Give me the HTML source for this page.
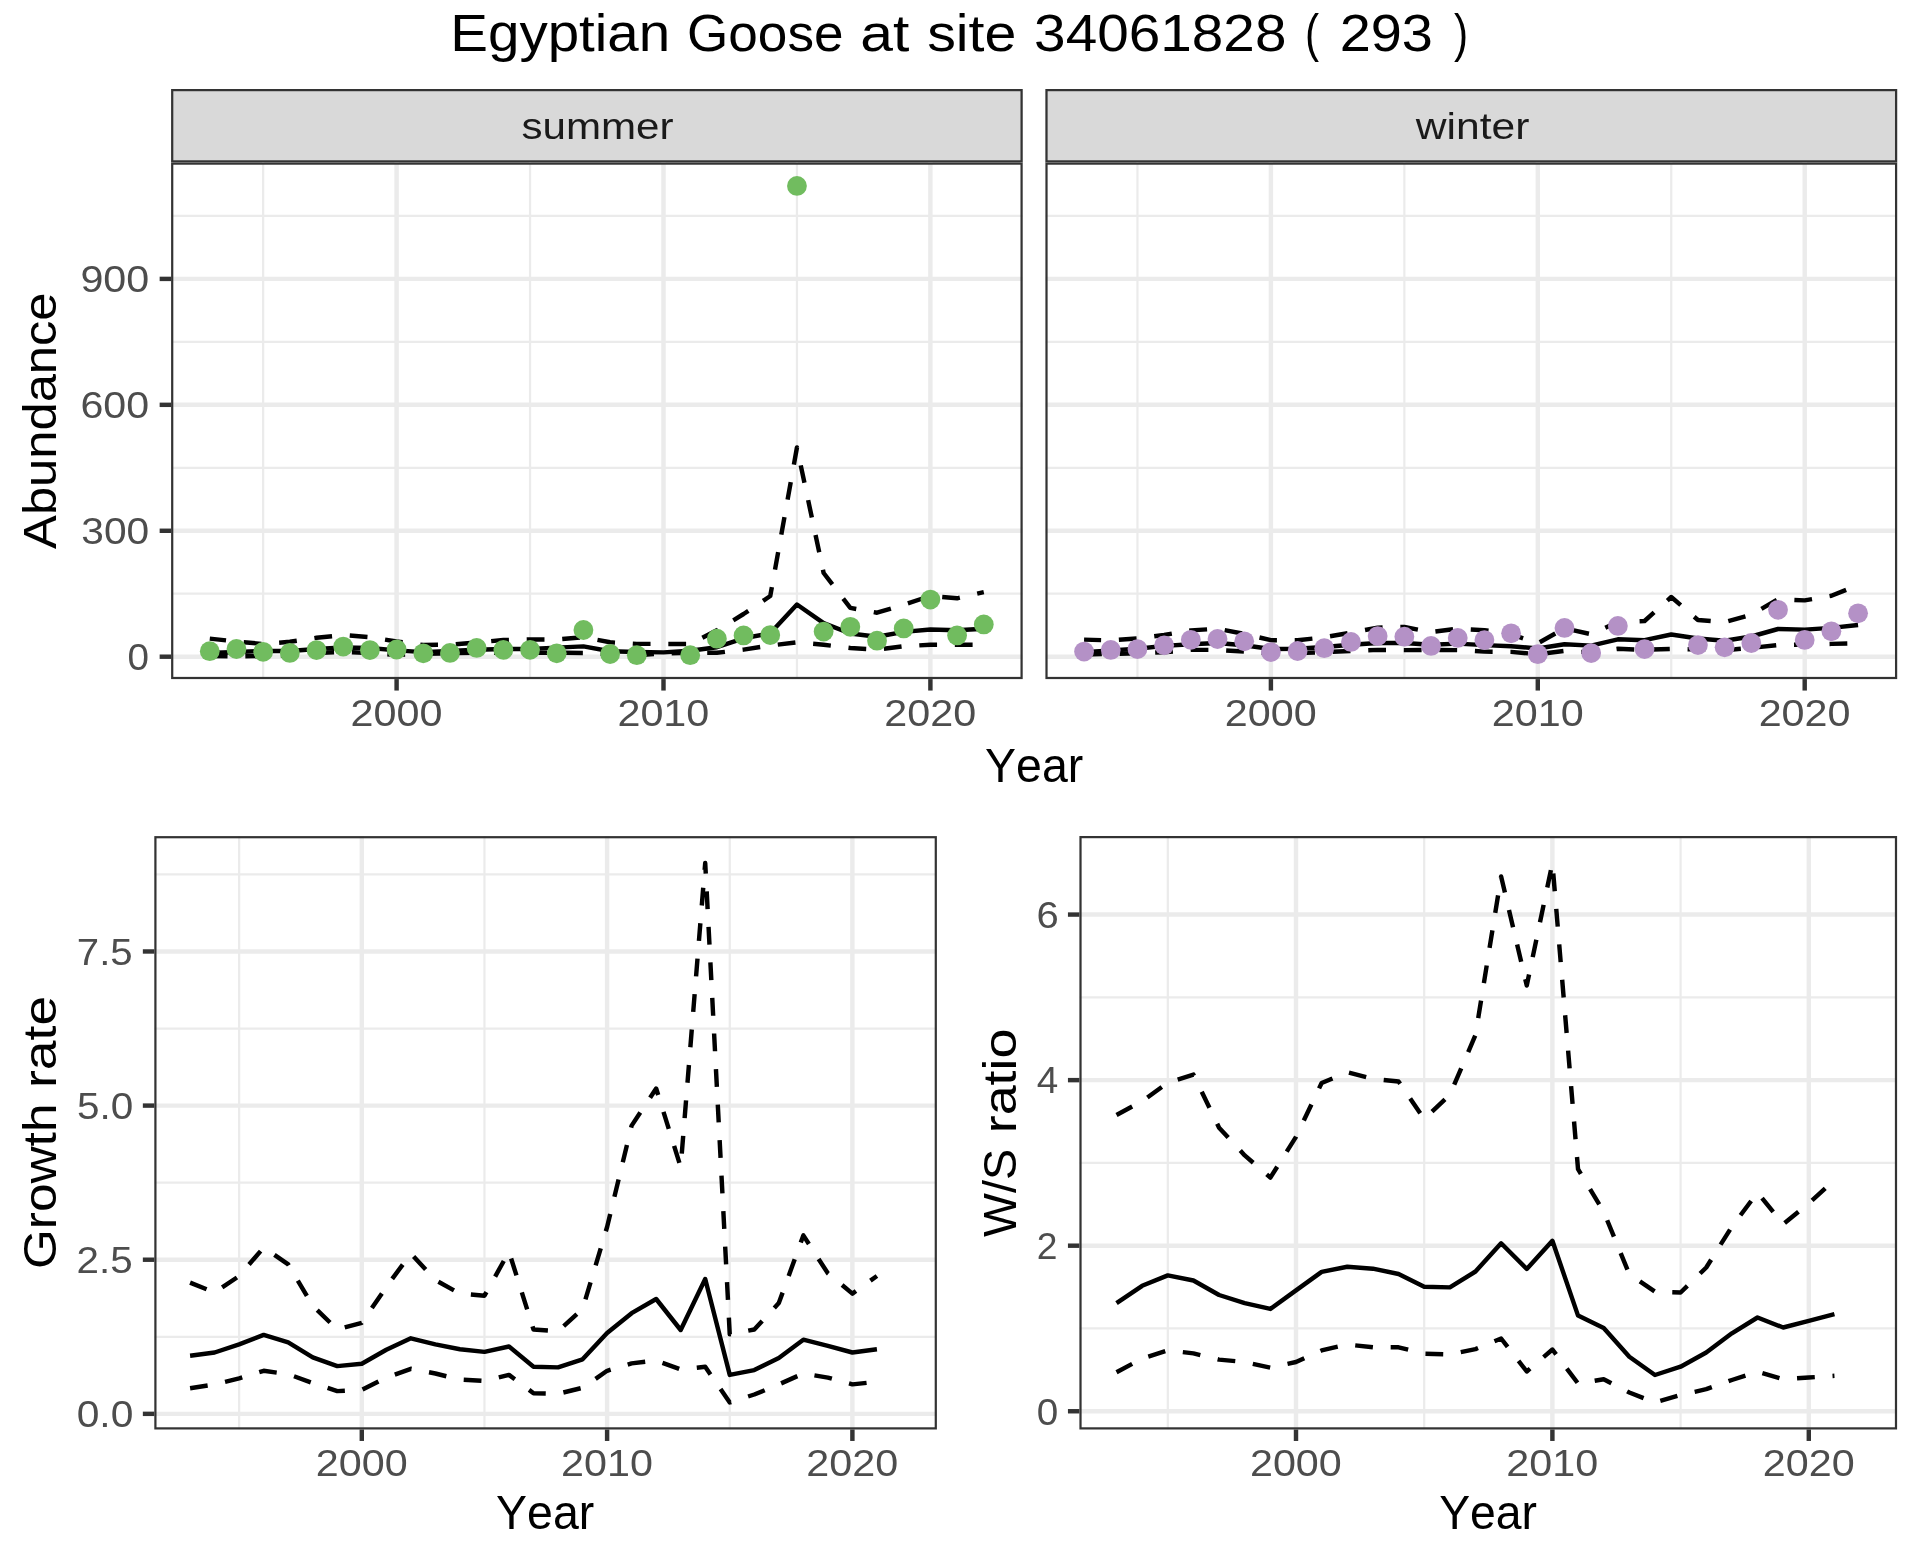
<!DOCTYPE html>
<html><head><meta charset="utf-8"><title>Egyptian Goose at site 34061828</title>
<style>html,body{margin:0;padding:0;background:#FFFFFF;}svg{display:block;will-change:transform;}text{font-family:"Liberation Sans",sans-serif;font-kerning:none;}</style>
</head><body>
<svg width="1920" height="1560" viewBox="0 0 1920 1560">
<rect x="0" y="0" width="1920" height="1560" fill="#FFFFFF"/>
<text transform="translate(450.26 51) scale(1.0894 1)" font-size="51.90" fill="#000000">Egyptian</text>
<text transform="translate(686.95 51) scale(1.0240 1)" font-size="51.90" fill="#000000">Goose</text>
<text transform="translate(860.29 51) scale(1.1335 1)" font-size="51.90" fill="#000000">at</text>
<text transform="translate(927.16 51) scale(1.1050 1)" font-size="51.90" fill="#000000">site</text>
<text transform="translate(1034.1 51) scale(1.0929 1)" font-size="51.90" fill="#000000">34061828</text>
<text transform="translate(1305.03 51) scale(0.8159 1)" font-size="51.90" fill="#000000">(</text>
<text transform="translate(1339.68 51) scale(1.0763 1)" font-size="51.90" fill="#000000">293</text>
<text transform="translate(1454.12 51) scale(0.8159 1)" font-size="51.90" fill="#000000">)</text>
<rect x="171.1" y="89" width="851.6" height="73.5" fill="#D9D9D9"/>
<rect x="172.21" y="90.11" width="849.38" height="71.28" fill="none" stroke="#333333" stroke-width="2.22"/>
<text transform="translate(521.48 138.6) scale(1.1378 1)" font-size="37.02" fill="#1A1A1A">summer</text>
<rect x="1045.4" y="89" width="851.8" height="73.5" fill="#D9D9D9"/>
<rect x="1046.51" y="90.11" width="849.58" height="71.28" fill="none" stroke="#333333" stroke-width="2.22"/>
<text transform="translate(1415.76 138.6) scale(1.1423 1)" font-size="37.30" fill="#1A1A1A">winter</text>
<clipPath id="c1"><rect x="171.1" y="162.5" width="851.6" height="516.6"/></clipPath>
<g clip-path="url(#c1)">
<rect x="171.1" y="162.5" width="851.6" height="516.6" fill="#FFFFFF"/>
<line x1="171.1" y1="593.73" x2="1022.7" y2="593.73" stroke="#EBEBEB" stroke-width="2.22"/>
<line x1="171.1" y1="467.8" x2="1022.7" y2="467.8" stroke="#EBEBEB" stroke-width="2.22"/>
<line x1="171.1" y1="341.87" x2="1022.7" y2="341.87" stroke="#EBEBEB" stroke-width="2.22"/>
<line x1="171.1" y1="215.93" x2="1022.7" y2="215.93" stroke="#EBEBEB" stroke-width="2.22"/>
<line x1="263.15" y1="162.5" x2="263.15" y2="679.1" stroke="#EBEBEB" stroke-width="2.22"/>
<line x1="530.05" y1="162.5" x2="530.05" y2="679.1" stroke="#EBEBEB" stroke-width="2.22"/>
<line x1="796.95" y1="162.5" x2="796.95" y2="679.1" stroke="#EBEBEB" stroke-width="2.22"/>
<line x1="171.1" y1="656.7" x2="1022.7" y2="656.7" stroke="#EBEBEB" stroke-width="4.44"/>
<line x1="171.1" y1="530.77" x2="1022.7" y2="530.77" stroke="#EBEBEB" stroke-width="4.44"/>
<line x1="171.1" y1="404.83" x2="1022.7" y2="404.83" stroke="#EBEBEB" stroke-width="4.44"/>
<line x1="171.1" y1="278.9" x2="1022.7" y2="278.9" stroke="#EBEBEB" stroke-width="4.44"/>
<line x1="396.6" y1="162.5" x2="396.6" y2="679.1" stroke="#EBEBEB" stroke-width="4.44"/>
<line x1="663.5" y1="162.5" x2="663.5" y2="679.1" stroke="#EBEBEB" stroke-width="4.44"/>
<line x1="930.4" y1="162.5" x2="930.4" y2="679.1" stroke="#EBEBEB" stroke-width="4.44"/>
<polyline points="209.77,656 236.46,656.5 263.15,656 289.84,655.5 316.53,653 343.22,652 369.91,653 396.6,655 423.29,653.9 449.98,653.3 476.67,652.7 503.36,652.7 530.05,652.7 556.74,652.7 583.43,653 610.12,654.4 636.81,655.2 663.5,653.5 690.19,652.8 716.88,652.8 743.57,649.6 770.26,645.5 796.95,642.3 823.64,644.7 850.33,648 877.02,649.6 903.71,646.3 930.4,644.7 957.09,644.7 983.78,644.7" fill="none" stroke="#000000" stroke-width="4.44" stroke-linejoin="round" stroke-linecap="butt" stroke-dasharray="17.78 17.78"/>
<polyline points="209.77,638.6 236.46,641.5 263.15,644 289.84,641.8 316.53,637.8 343.22,635 369.91,637.2 396.6,641.5 423.29,645 449.98,644.7 476.67,642.4 503.36,640 530.05,639.5 556.74,639.5 583.43,637.2 610.12,642.3 636.81,643.9 663.5,643.9 690.19,644 716.88,630.3 743.57,614 770.26,596 796.95,447.5 823.64,573 850.33,607.9 877.02,612.7 903.71,604.7 930.4,595.9 957.09,598.3 983.78,592.2" fill="none" stroke="#000000" stroke-width="4.44" stroke-linejoin="round" stroke-linecap="butt" stroke-dasharray="17.78 17.78" stroke-dashoffset="1.42"/>
<polyline points="209.77,653 236.46,652 263.15,651 289.84,651 316.53,649 343.22,647.5 369.91,648 396.6,650.4 423.29,652.1 449.98,651 476.67,649.8 503.36,649 530.05,649 556.74,647.6 583.43,646.4 610.12,651.2 636.81,652 663.5,652.4 690.19,650.8 716.88,647.2 743.57,638.3 770.26,633.2 796.95,604.5 823.64,623.1 850.33,633.5 877.02,636.7 903.71,631.9 930.4,629.5 957.09,630.3 983.78,628.7" fill="none" stroke="#000000" stroke-width="4.44" stroke-linejoin="round" stroke-linecap="butt"/>
<circle cx="209.77" cy="651.2" r="9.9" fill="#71BC5F"/>
<circle cx="236.46" cy="649" r="9.9" fill="#71BC5F"/>
<circle cx="263.15" cy="651.8" r="9.9" fill="#71BC5F"/>
<circle cx="289.84" cy="652.9" r="9.9" fill="#71BC5F"/>
<circle cx="316.53" cy="650.1" r="9.9" fill="#71BC5F"/>
<circle cx="343.22" cy="646.6" r="9.9" fill="#71BC5F"/>
<circle cx="369.91" cy="650.1" r="9.9" fill="#71BC5F"/>
<circle cx="396.6" cy="649.5" r="9.9" fill="#71BC5F"/>
<circle cx="423.29" cy="653.3" r="9.9" fill="#71BC5F"/>
<circle cx="449.98" cy="652.9" r="9.9" fill="#71BC5F"/>
<circle cx="476.67" cy="647.9" r="9.9" fill="#71BC5F"/>
<circle cx="503.36" cy="649.8" r="9.9" fill="#71BC5F"/>
<circle cx="530.05" cy="649.8" r="9.9" fill="#71BC5F"/>
<circle cx="556.74" cy="653.3" r="9.9" fill="#71BC5F"/>
<circle cx="583.43" cy="630" r="9.9" fill="#71BC5F"/>
<circle cx="610.12" cy="654" r="9.9" fill="#71BC5F"/>
<circle cx="636.81" cy="655.2" r="9.9" fill="#71BC5F"/>
<circle cx="690.19" cy="655.2" r="9.9" fill="#71BC5F"/>
<circle cx="716.88" cy="638.7" r="9.9" fill="#71BC5F"/>
<circle cx="743.57" cy="635.4" r="9.9" fill="#71BC5F"/>
<circle cx="770.26" cy="635.1" r="9.9" fill="#71BC5F"/>
<circle cx="796.95" cy="185.96" r="9.9" fill="#71BC5F"/>
<circle cx="823.64" cy="631.6" r="9.9" fill="#71BC5F"/>
<circle cx="850.33" cy="626.8" r="9.9" fill="#71BC5F"/>
<circle cx="877.02" cy="640.7" r="9.9" fill="#71BC5F"/>
<circle cx="903.71" cy="628.4" r="9.9" fill="#71BC5F"/>
<circle cx="930.4" cy="599.6" r="9.9" fill="#71BC5F"/>
<circle cx="957.09" cy="635.4" r="9.9" fill="#71BC5F"/>
<circle cx="983.78" cy="624.4" r="9.9" fill="#71BC5F"/>
</g>
<rect x="172.21" y="163.61" width="849.38" height="514.38" fill="none" stroke="#333333" stroke-width="2.22"/>
<clipPath id="c2"><rect x="1045.4" y="162.5" width="851.8" height="516.6"/></clipPath>
<g clip-path="url(#c2)">
<rect x="1045.4" y="162.5" width="851.8" height="516.6" fill="#FFFFFF"/>
<line x1="1045.4" y1="593.73" x2="1897.2" y2="593.73" stroke="#EBEBEB" stroke-width="2.22"/>
<line x1="1045.4" y1="467.8" x2="1897.2" y2="467.8" stroke="#EBEBEB" stroke-width="2.22"/>
<line x1="1045.4" y1="341.87" x2="1897.2" y2="341.87" stroke="#EBEBEB" stroke-width="2.22"/>
<line x1="1045.4" y1="215.93" x2="1897.2" y2="215.93" stroke="#EBEBEB" stroke-width="2.22"/>
<line x1="1137.45" y1="162.5" x2="1137.45" y2="679.1" stroke="#EBEBEB" stroke-width="2.22"/>
<line x1="1404.35" y1="162.5" x2="1404.35" y2="679.1" stroke="#EBEBEB" stroke-width="2.22"/>
<line x1="1671.25" y1="162.5" x2="1671.25" y2="679.1" stroke="#EBEBEB" stroke-width="2.22"/>
<line x1="1045.4" y1="656.7" x2="1897.2" y2="656.7" stroke="#EBEBEB" stroke-width="4.44"/>
<line x1="1045.4" y1="530.77" x2="1897.2" y2="530.77" stroke="#EBEBEB" stroke-width="4.44"/>
<line x1="1045.4" y1="404.83" x2="1897.2" y2="404.83" stroke="#EBEBEB" stroke-width="4.44"/>
<line x1="1045.4" y1="278.9" x2="1897.2" y2="278.9" stroke="#EBEBEB" stroke-width="4.44"/>
<line x1="1270.9" y1="162.5" x2="1270.9" y2="679.1" stroke="#EBEBEB" stroke-width="4.44"/>
<line x1="1537.8" y1="162.5" x2="1537.8" y2="679.1" stroke="#EBEBEB" stroke-width="4.44"/>
<line x1="1804.7" y1="162.5" x2="1804.7" y2="679.1" stroke="#EBEBEB" stroke-width="4.44"/>
<polyline points="1084.07,654.5 1110.76,653.9 1137.45,653.3 1164.14,652.2 1190.83,649.9 1217.52,649.9 1244.21,651.6 1270.9,653.3 1297.59,653.1 1324.28,652.2 1350.97,651 1377.66,649.9 1404.35,650.1 1431.04,649.9 1457.73,650.1 1484.42,651.6 1511.11,651.9 1537.8,654.2 1564.49,650.8 1591.18,652.5 1617.87,648.8 1644.56,649.8 1671.25,648.9 1697.94,649.4 1724.63,650.2 1751.32,647.9 1778.01,645.1 1804.7,644.5 1831.39,643.9 1858.08,643.3" fill="none" stroke="#000000" stroke-width="4.44" stroke-linejoin="round" stroke-linecap="butt" stroke-dasharray="17.78 17.78"/>
<polyline points="1084.07,639.6 1110.76,640.4 1137.45,638.4 1164.14,635 1190.83,630.4 1217.52,628.7 1244.21,633.9 1270.9,640.2 1297.59,640.2 1324.28,637.3 1350.97,632.7 1377.66,627.6 1404.35,627 1431.04,632.1 1457.73,628.7 1484.42,630.2 1511.11,634.2 1537.8,643.3 1564.49,628.4 1591.18,634.2 1617.87,622.1 1644.56,621 1671.25,597 1697.94,620 1724.63,622.1 1751.32,614.7 1778.01,599.2 1804.7,600.4 1831.39,595.8 1858.08,585" fill="none" stroke="#000000" stroke-width="4.44" stroke-linejoin="round" stroke-linecap="butt" stroke-dasharray="17.78 17.78" stroke-dashoffset="0.73"/>
<polyline points="1084.07,652.2 1110.76,650.5 1137.45,648.8 1164.14,645.9 1190.83,644.2 1217.52,643 1244.21,645.3 1270.9,649 1297.59,648.8 1324.28,647 1350.97,644.7 1377.66,643 1404.35,643 1431.04,644.7 1457.73,643.6 1484.42,645.1 1511.11,646.2 1537.8,648.5 1564.49,644.3 1591.18,645.6 1617.87,639.3 1644.56,640.2 1671.25,634.5 1697.94,638.5 1724.63,640.8 1751.32,636.5 1778.01,629 1804.7,629.6 1831.39,627.9 1858.08,625" fill="none" stroke="#000000" stroke-width="4.44" stroke-linejoin="round" stroke-linecap="butt"/>
<circle cx="1084.07" cy="651.6" r="9.9" fill="#B491C6"/>
<circle cx="1110.76" cy="649.9" r="9.9" fill="#B491C6"/>
<circle cx="1137.45" cy="649.1" r="9.9" fill="#B491C6"/>
<circle cx="1164.14" cy="645.3" r="9.9" fill="#B491C6"/>
<circle cx="1190.83" cy="639.8" r="9.9" fill="#B491C6"/>
<circle cx="1217.52" cy="639" r="9.9" fill="#B491C6"/>
<circle cx="1244.21" cy="641.3" r="9.9" fill="#B491C6"/>
<circle cx="1270.9" cy="652.1" r="9.9" fill="#B491C6"/>
<circle cx="1297.59" cy="651" r="9.9" fill="#B491C6"/>
<circle cx="1324.28" cy="648.2" r="9.9" fill="#B491C6"/>
<circle cx="1350.97" cy="641.9" r="9.9" fill="#B491C6"/>
<circle cx="1377.66" cy="636.1" r="9.9" fill="#B491C6"/>
<circle cx="1404.35" cy="636.7" r="9.9" fill="#B491C6"/>
<circle cx="1431.04" cy="645.9" r="9.9" fill="#B491C6"/>
<circle cx="1457.73" cy="637.9" r="9.9" fill="#B491C6"/>
<circle cx="1484.42" cy="640.1" r="9.9" fill="#B491C6"/>
<circle cx="1511.11" cy="633.3" r="9.9" fill="#B491C6"/>
<circle cx="1537.8" cy="654.2" r="9.9" fill="#B491C6"/>
<circle cx="1564.49" cy="627.9" r="9.9" fill="#B491C6"/>
<circle cx="1591.18" cy="653.1" r="9.9" fill="#B491C6"/>
<circle cx="1617.87" cy="625.9" r="9.9" fill="#B491C6"/>
<circle cx="1644.56" cy="649.1" r="9.9" fill="#B491C6"/>
<circle cx="1697.94" cy="645.1" r="9.9" fill="#B491C6"/>
<circle cx="1724.63" cy="647.3" r="9.9" fill="#B491C6"/>
<circle cx="1751.32" cy="643" r="9.9" fill="#B491C6"/>
<circle cx="1778.01" cy="609.8" r="9.9" fill="#B491C6"/>
<circle cx="1804.7" cy="639.9" r="9.9" fill="#B491C6"/>
<circle cx="1831.39" cy="631.3" r="9.9" fill="#B491C6"/>
<circle cx="1858.08" cy="613.3" r="9.9" fill="#B491C6"/>
</g>
<rect x="1046.51" y="163.61" width="849.58" height="514.38" fill="none" stroke="#333333" stroke-width="2.22"/>
<line x1="396.6" y1="679.1" x2="396.6" y2="690.56" stroke="#333333" stroke-width="4.44"/>
<text transform="translate(350.55 725.9) scale(1.1097 1)" font-size="37.22" fill="#4D4D4D">2000</text>
<line x1="663.5" y1="679.1" x2="663.5" y2="690.56" stroke="#333333" stroke-width="4.44"/>
<text transform="translate(617.45 725.9) scale(1.1097 1)" font-size="37.22" fill="#4D4D4D">2010</text>
<line x1="930.4" y1="679.1" x2="930.4" y2="690.56" stroke="#333333" stroke-width="4.44"/>
<text transform="translate(884.35 725.9) scale(1.1097 1)" font-size="37.22" fill="#4D4D4D">2020</text>
<line x1="1270.9" y1="679.1" x2="1270.9" y2="690.56" stroke="#333333" stroke-width="4.44"/>
<text transform="translate(1224.85 725.9) scale(1.1097 1)" font-size="37.22" fill="#4D4D4D">2000</text>
<line x1="1537.8" y1="679.1" x2="1537.8" y2="690.56" stroke="#333333" stroke-width="4.44"/>
<text transform="translate(1491.75 725.9) scale(1.1097 1)" font-size="37.22" fill="#4D4D4D">2010</text>
<line x1="1804.7" y1="679.1" x2="1804.7" y2="690.56" stroke="#333333" stroke-width="4.44"/>
<text transform="translate(1758.65 725.9) scale(1.1097 1)" font-size="37.22" fill="#4D4D4D">2020</text>
<line x1="159.64" y1="656.7" x2="171.1" y2="656.7" stroke="#333333" stroke-width="4.44"/>
<text transform="translate(127.58 670) scale(1.0385 1)" font-size="37.22" fill="#4D4D4D">0</text>
<line x1="159.64" y1="530.77" x2="171.1" y2="530.77" stroke="#333333" stroke-width="4.44"/>
<text transform="translate(81.25 544.07) scale(1.0933 1)" font-size="37.22" fill="#4D4D4D">300</text>
<line x1="159.64" y1="404.83" x2="171.1" y2="404.83" stroke="#333333" stroke-width="4.44"/>
<text transform="translate(80.48 418.13) scale(1.1061 1)" font-size="37.22" fill="#4D4D4D">600</text>
<line x1="159.64" y1="278.9" x2="171.1" y2="278.9" stroke="#333333" stroke-width="4.44"/>
<text transform="translate(80.39 292.2) scale(1.1076 1)" font-size="37.22" fill="#4D4D4D">900</text>
<text transform="translate(56.2 548.9) rotate(-90) scale(1.0766 1)" font-size="47.09" fill="#000000">Abundance</text>
<text transform="translate(985.08 781.7) scale(0.9768 1)" font-size="47.59" fill="#000000">Year</text>
<clipPath id="c3"><rect x="154.3" y="836.1" width="782.6" height="593.4"/></clipPath>
<g clip-path="url(#c3)">
<rect x="154.3" y="836.1" width="782.6" height="593.4" fill="#FFFFFF"/>
<line x1="154.3" y1="1336.79" x2="936.9" y2="1336.79" stroke="#EBEBEB" stroke-width="2.22"/>
<line x1="154.3" y1="1182.66" x2="936.9" y2="1182.66" stroke="#EBEBEB" stroke-width="2.22"/>
<line x1="154.3" y1="1028.54" x2="936.9" y2="1028.54" stroke="#EBEBEB" stroke-width="2.22"/>
<line x1="154.3" y1="874.41" x2="936.9" y2="874.41" stroke="#EBEBEB" stroke-width="2.22"/>
<line x1="239.15" y1="836.1" x2="239.15" y2="1429.5" stroke="#EBEBEB" stroke-width="2.22"/>
<line x1="484.45" y1="836.1" x2="484.45" y2="1429.5" stroke="#EBEBEB" stroke-width="2.22"/>
<line x1="729.75" y1="836.1" x2="729.75" y2="1429.5" stroke="#EBEBEB" stroke-width="2.22"/>
<line x1="154.3" y1="1413.85" x2="936.9" y2="1413.85" stroke="#EBEBEB" stroke-width="4.44"/>
<line x1="154.3" y1="1259.72" x2="936.9" y2="1259.72" stroke="#EBEBEB" stroke-width="4.44"/>
<line x1="154.3" y1="1105.6" x2="936.9" y2="1105.6" stroke="#EBEBEB" stroke-width="4.44"/>
<line x1="154.3" y1="951.47" x2="936.9" y2="951.47" stroke="#EBEBEB" stroke-width="4.44"/>
<line x1="361.8" y1="836.1" x2="361.8" y2="1429.5" stroke="#EBEBEB" stroke-width="4.44"/>
<line x1="607.1" y1="836.1" x2="607.1" y2="1429.5" stroke="#EBEBEB" stroke-width="4.44"/>
<line x1="852.4" y1="836.1" x2="852.4" y2="1429.5" stroke="#EBEBEB" stroke-width="4.44"/>
<polyline points="190.09,1388.2 214.62,1384.4 239.15,1378.3 263.68,1370.8 288.21,1374.2 312.74,1383 337.27,1391.1 361.8,1389.8 386.33,1377.6 410.86,1368.8 435.39,1373.5 459.92,1379.6 484.45,1381 508.98,1374.9 533.51,1393.2 558.04,1393.8 582.57,1387.8 607.1,1370.8 631.63,1363.4 656.16,1360.5 680.69,1369.5 705.22,1366.8 729.75,1402.5 754.28,1394.5 778.81,1384.4 803.34,1373.5 827.87,1377.6 852.4,1384.4 876.93,1381.7" fill="none" stroke="#000000" stroke-width="4.44" stroke-linejoin="round" stroke-linecap="butt" stroke-dasharray="17.78 17.78"/>
<polyline points="190.09,1282.6 214.62,1292.5 239.15,1276 263.68,1247.5 288.21,1264.4 312.74,1305.8 337.27,1329.5 361.8,1322.8 386.33,1286.9 410.86,1253.5 435.39,1280.1 459.92,1293.6 484.45,1295.7 508.98,1251.7 533.51,1329.5 558.04,1331.3 582.57,1309 607.1,1227 631.63,1125.6 656.16,1088.5 680.69,1167 705.22,863 729.75,1334.3 754.28,1329.5 778.81,1303.1 803.34,1235.4 827.87,1273.3 852.4,1293.6 876.93,1276" fill="none" stroke="#000000" stroke-width="4.44" stroke-linejoin="round" stroke-linecap="butt" stroke-dasharray="17.78 17.78"/>
<polyline points="190.09,1355.7 214.62,1352.5 239.15,1344.4 263.68,1334.9 288.21,1342.4 312.74,1357.3 337.27,1366.1 361.8,1363.8 386.33,1349.8 410.86,1338.3 435.39,1344.4 459.92,1349.2 484.45,1351.9 508.98,1346.5 533.51,1366.8 558.04,1367.4 582.57,1359.3 607.1,1333 631.63,1313.2 656.16,1299 680.69,1330 705.22,1279 729.75,1374.9 754.28,1370.1 778.81,1358 803.34,1339.7 827.87,1345.8 852.4,1352.5 876.93,1349.2" fill="none" stroke="#000000" stroke-width="4.44" stroke-linejoin="round" stroke-linecap="butt"/>
</g>
<rect x="155.41" y="837.21" width="780.38" height="591.18" fill="none" stroke="#333333" stroke-width="2.22"/>
<line x1="361.8" y1="1429.5" x2="361.8" y2="1440.96" stroke="#333333" stroke-width="4.44"/>
<text transform="translate(315.75 1475.8) scale(1.1097 1)" font-size="37.22" fill="#4D4D4D">2000</text>
<line x1="607.1" y1="1429.5" x2="607.1" y2="1440.96" stroke="#333333" stroke-width="4.44"/>
<text transform="translate(561.05 1475.8) scale(1.1097 1)" font-size="37.22" fill="#4D4D4D">2010</text>
<line x1="852.4" y1="1429.5" x2="852.4" y2="1440.96" stroke="#333333" stroke-width="4.44"/>
<text transform="translate(806.35 1475.8) scale(1.1097 1)" font-size="37.22" fill="#4D4D4D">2020</text>
<line x1="142.84" y1="1413.85" x2="154.3" y2="1413.85" stroke="#333333" stroke-width="4.44"/>
<text transform="translate(76.71 1427.15) scale(1.0947 1)" font-size="37.22" fill="#4D4D4D">0.0</text>
<line x1="142.84" y1="1259.72" x2="154.3" y2="1259.72" stroke="#333333" stroke-width="4.44"/>
<text transform="translate(76.54 1273.02) scale(1.0852 1)" font-size="37.22" fill="#4D4D4D">2.5</text>
<line x1="142.84" y1="1105.6" x2="154.3" y2="1105.6" stroke="#333333" stroke-width="4.44"/>
<text transform="translate(77.09 1118.9) scale(1.0871 1)" font-size="37.22" fill="#4D4D4D">5.0</text>
<line x1="142.84" y1="951.47" x2="154.3" y2="951.47" stroke="#333333" stroke-width="4.44"/>
<text transform="translate(76.83 964.77) scale(1.0827 1)" font-size="37.11" fill="#4D4D4D">7.5</text>
<text transform="translate(56.2 1269.08) rotate(-90) scale(1.0907 1)" font-size="47.09" fill="#000000">Growth</text>
<text transform="translate(56.2 1087.9) rotate(-90) scale(1.1335 1)" font-size="47.09" fill="#000000">rate</text>
<text transform="translate(496.08 1528.8) scale(0.9768 1)" font-size="47.59" fill="#000000">Year</text>
<clipPath id="c4"><rect x="1079.4" y="836" width="817.7" height="593.5"/></clipPath>
<g clip-path="url(#c4)">
<rect x="1079.4" y="836" width="817.7" height="593.5" fill="#FFFFFF"/>
<line x1="1079.4" y1="1328.47" x2="1897.1" y2="1328.47" stroke="#EBEBEB" stroke-width="2.22"/>
<line x1="1079.4" y1="1162.91" x2="1897.1" y2="1162.91" stroke="#EBEBEB" stroke-width="2.22"/>
<line x1="1079.4" y1="997.35" x2="1897.1" y2="997.35" stroke="#EBEBEB" stroke-width="2.22"/>
<line x1="1167.8" y1="836" x2="1167.8" y2="1429.5" stroke="#EBEBEB" stroke-width="2.22"/>
<line x1="1424.2" y1="836" x2="1424.2" y2="1429.5" stroke="#EBEBEB" stroke-width="2.22"/>
<line x1="1680.6" y1="836" x2="1680.6" y2="1429.5" stroke="#EBEBEB" stroke-width="2.22"/>
<line x1="1079.4" y1="1411.25" x2="1897.1" y2="1411.25" stroke="#EBEBEB" stroke-width="4.44"/>
<line x1="1079.4" y1="1245.69" x2="1897.1" y2="1245.69" stroke="#EBEBEB" stroke-width="4.44"/>
<line x1="1079.4" y1="1080.13" x2="1897.1" y2="1080.13" stroke="#EBEBEB" stroke-width="4.44"/>
<line x1="1079.4" y1="914.57" x2="1897.1" y2="914.57" stroke="#EBEBEB" stroke-width="4.44"/>
<line x1="1296" y1="836" x2="1296" y2="1429.5" stroke="#EBEBEB" stroke-width="4.44"/>
<line x1="1552.4" y1="836" x2="1552.4" y2="1429.5" stroke="#EBEBEB" stroke-width="4.44"/>
<line x1="1808.8" y1="836" x2="1808.8" y2="1429.5" stroke="#EBEBEB" stroke-width="4.44"/>
<polyline points="1116.52,1372.3 1142.16,1358.5 1167.8,1350.4 1193.44,1353.4 1219.08,1359.6 1244.72,1362 1270.36,1367.7 1296,1362 1321.64,1350.4 1347.28,1344.5 1372.92,1347.3 1398.56,1347.3 1424.2,1353.7 1449.84,1354.4 1475.48,1349.1 1501.12,1338.5 1526.76,1371.5 1552.4,1349.5 1578.04,1383.5 1603.68,1379.2 1629.32,1392.5 1654.96,1402.5 1680.6,1395 1706.24,1389.2 1731.88,1380 1757.52,1371.7 1783.16,1379.2 1808.8,1377.5 1834.44,1375.8" fill="none" stroke="#000000" stroke-width="4.44" stroke-linejoin="round" stroke-linecap="butt" stroke-dasharray="17.78 17.78"/>
<polyline points="1116.52,1115 1142.16,1101.2 1167.8,1082.7 1193.44,1074.6 1219.08,1127.7 1244.72,1155.4 1270.36,1177.6 1296,1136.9 1321.64,1083 1347.28,1072.2 1372.92,1078.8 1398.56,1081.5 1424.2,1119 1449.84,1094.9 1475.48,1035 1501.12,876.5 1526.76,985.5 1552.4,863 1578.04,1169.2 1603.68,1211.7 1629.32,1274.2 1654.96,1291.7 1680.6,1292.5 1706.24,1267.5 1731.88,1226.7 1757.52,1192.5 1783.16,1224.2 1808.8,1203.3 1834.44,1180" fill="none" stroke="#000000" stroke-width="4.44" stroke-linejoin="round" stroke-linecap="butt" stroke-dasharray="17.78 17.78"/>
<polyline points="1116.52,1303.1 1142.16,1285.8 1167.8,1275.4 1193.44,1280.5 1219.08,1295 1244.72,1303.1 1270.36,1308.9 1296,1290.4 1321.64,1271.9 1347.28,1266.8 1372.92,1268.7 1398.56,1274 1424.2,1286.7 1449.84,1287.4 1475.48,1271.5 1501.12,1243.3 1526.76,1269 1552.4,1240.8 1578.04,1315.6 1603.68,1328 1629.32,1356.7 1654.96,1375 1680.6,1366.7 1706.24,1352.5 1731.88,1333.3 1757.52,1317.5 1783.16,1327.5 1808.8,1320.8 1834.44,1314.2" fill="none" stroke="#000000" stroke-width="4.44" stroke-linejoin="round" stroke-linecap="butt"/>
</g>
<rect x="1080.51" y="837.11" width="815.48" height="591.28" fill="none" stroke="#333333" stroke-width="2.22"/>
<line x1="1296" y1="1429.5" x2="1296" y2="1440.96" stroke="#333333" stroke-width="4.44"/>
<text transform="translate(1249.95 1475.8) scale(1.1097 1)" font-size="37.22" fill="#4D4D4D">2000</text>
<line x1="1552.4" y1="1429.5" x2="1552.4" y2="1440.96" stroke="#333333" stroke-width="4.44"/>
<text transform="translate(1506.35 1475.8) scale(1.1097 1)" font-size="37.22" fill="#4D4D4D">2010</text>
<line x1="1808.8" y1="1429.5" x2="1808.8" y2="1440.96" stroke="#333333" stroke-width="4.44"/>
<text transform="translate(1762.75 1475.8) scale(1.1097 1)" font-size="37.22" fill="#4D4D4D">2020</text>
<line x1="1067.94" y1="1411.25" x2="1079.4" y2="1411.25" stroke="#333333" stroke-width="4.44"/>
<text transform="translate(1036.83 1424.55) scale(1.0385 1)" font-size="37.22" fill="#4D4D4D">0</text>
<line x1="1067.94" y1="1245.69" x2="1079.4" y2="1245.69" stroke="#333333" stroke-width="4.44"/>
<text transform="translate(1036.73 1258.99) scale(1.0010 1)" font-size="37.22" fill="#4D4D4D">2</text>
<line x1="1067.94" y1="1080.13" x2="1079.4" y2="1080.13" stroke="#333333" stroke-width="4.44"/>
<text transform="translate(1036.82 1093.43) scale(1.0418 1)" font-size="37.11" fill="#4D4D4D">4</text>
<line x1="1067.94" y1="914.57" x2="1079.4" y2="914.57" stroke="#333333" stroke-width="4.44"/>
<text transform="translate(1036.45 927.87) scale(1.0748 1)" font-size="37.22" fill="#4D4D4D">6</text>
<text transform="translate(1015.8 1236.9) rotate(-90) scale(0.9900 1)" font-size="47.09" fill="#000000">W/S</text>
<text transform="translate(1015.8 1133.3) rotate(-90) scale(1.1436 1)" font-size="47.09" fill="#000000">ratio</text>
<text transform="translate(1439.13 1528.8) scale(0.9743 1)" font-size="47.59" fill="#000000">Year</text>
</svg>
</body></html>
